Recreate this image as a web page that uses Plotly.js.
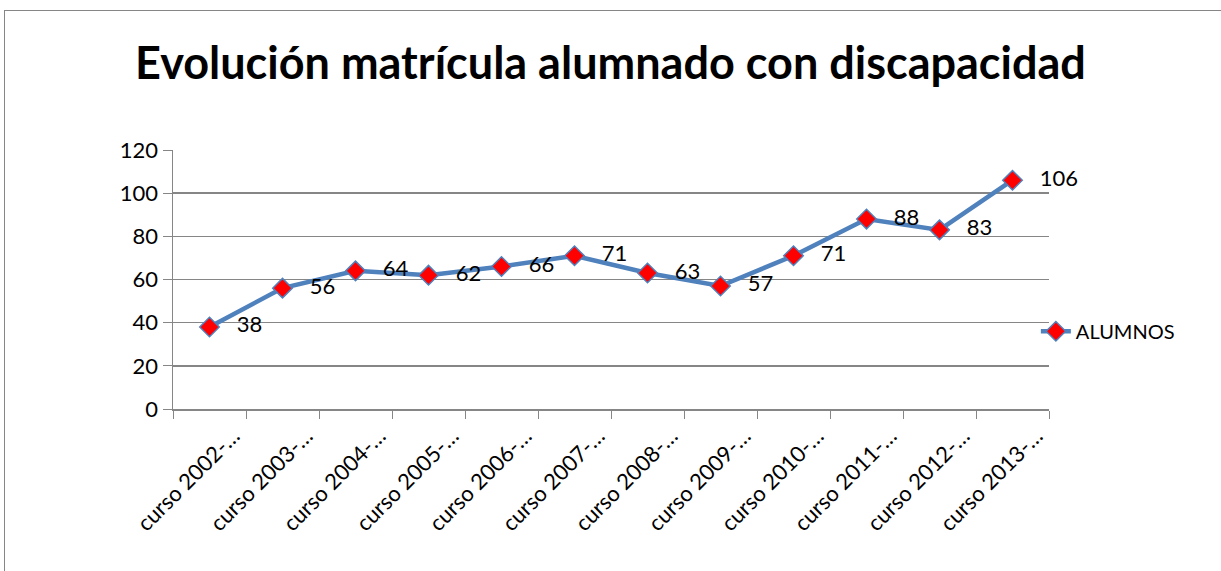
<!DOCTYPE html>
<html>
<head>
<meta charset="utf-8">
<script src="https://cdn.plot.ly/plotly-3.0.1.min.js"></script>
<style>
  body { margin: 0; background: #fff; }
  #graph { width: 1221px; height: 571px; }
  #frame { position: absolute; left: 4px; top: 10px; width: 1300px; height: 700px;
           border: 1px solid #868686; pointer-events: none; }
</style>
</head>
<body>
<div id="graph"></div>
<div id="frame"></div>
<script>
const cursos = ['curso 2002-…', 'curso 2003-…', 'curso 2004-…', 'curso 2005-…', 'curso 2006-…', 'curso 2007-…',
    'curso 2008-…', 'curso 2009-…', 'curso 2010-…', 'curso 2011-…', 'curso 2012-…', 'curso 2013-…'];
const alumnos = [38, 56, 64, 62, 66, 71, 63, 57, 71, 88, 83, 106];
const yTicks = [0, 20, 40, 60, 80, 100, 120];

const fontFam = 'Lato, "Open Sans", sans-serif';

let trace = {
    x: cursos,
    y: alumnos,
    mode: 'lines+markers+text',
    name: 'ALUMNOS',
    text: alumnos.map(v => '   ' + v),
    textposition: 'middle right',
    textfont: { family: fontFam, size: 22, color: '#000' },
    line: { color: '#4F81BD', width: 4.5 },
    marker: { symbol: 'diamond', size: 15, color: '#FF0000', line: { color: '#4F81BD', width: 1.5 } },
    cliponaxis: false
};

let layout = {
    width: 1221,
    height: 571,
    margin: { l: 173, r: 172, t: 150, b: 162 },
    paper_bgcolor: 'rgba(0,0,0,0)',
    plot_bgcolor: '#fff',
    title: {
        text: '<b>Evolución matrícula alumnado con discapacidad</b>',
        font: { family: fontFam, size: 45, color: '#000' },
        x: 0.5, xanchor: 'center', y: 0.89, yanchor: 'middle'
    },
    xaxis: {
        type: 'category',
        tickangle: -45,
        tickson: 'boundaries',
        ticks: 'outside', ticklen: 8, tickcolor: '#868686',
        ticklabelshift: 24,
        ticklabelstandoff: 4,
        showline: true, linecolor: '#868686', linewidth: 1.5,
        showgrid: false,
        tickfont: { family: fontFam, size: 22, color: '#000' },
        range: [-0.5, 11.5]
    },
    yaxis: {
        range: [0, 120],
        tickvals: yTicks,
        ticks: 'outside', ticklen: 9, tickcolor: '#868686',
        showline: true, linecolor: '#868686', linewidth: 1.5,
        gridcolor: '#868686', gridwidth: 1.5,
        zeroline: false,
        tickfont: { family: fontFam, size: 22, color: '#000' }
    },
    showlegend: true,
    legend: {
        x: 0.985, xanchor: 'left', y: 0.3, yanchor: 'middle',
        font: { family: fontFam, size: 20, color: '#000' },
        bgcolor: 'rgba(0,0,0,0)'
    }
};

Plotly.newPlot('graph', [trace], layout, { staticPlot: true });
</script>
</body>
</html>
